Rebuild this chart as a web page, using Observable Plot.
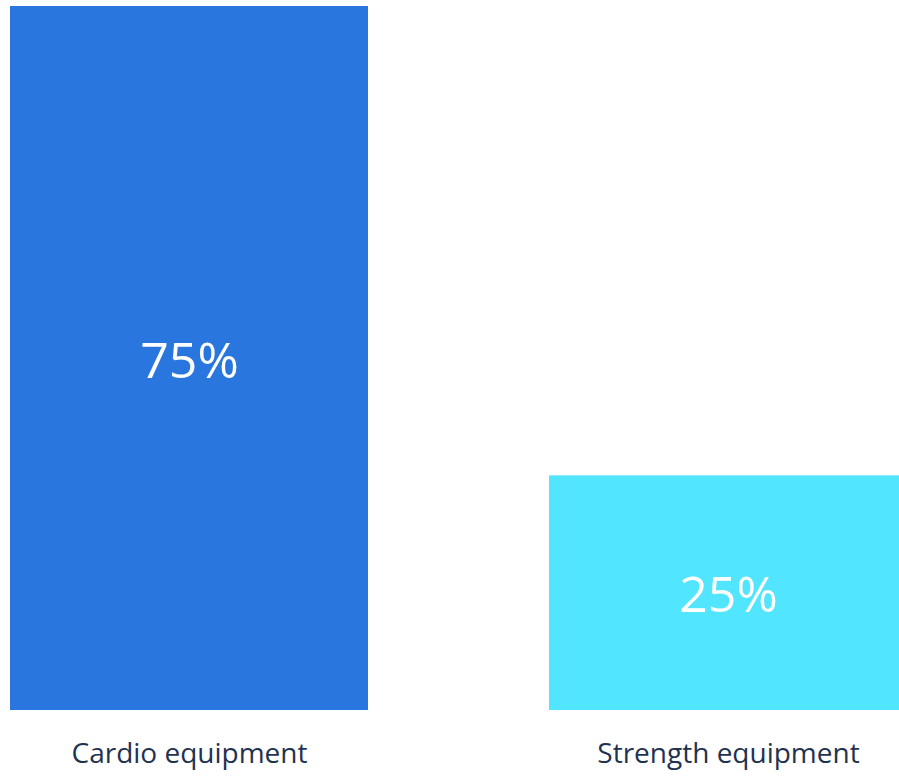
<!DOCTYPE html>
<html>
<head>
<meta charset="utf-8">
<script src="https://cdn.jsdelivr.net/npm/d3@7"></script>
<script src="https://cdn.jsdelivr.net/npm/@observablehq/plot@0.6"></script>
<style>
  html, body { margin: 0; padding: 0; background: #fff; overflow: hidden; }
  #chart svg { display: block; }
</style>
</head>
<body>
<div id="chart"></div>
<script>
const categories = ["Cardio equipment", "Strength equipment"];
const values = [75, 25];
const valueLabels = ["75%", "25%"];
const colors = ["#2976DE", "#52E5FF"];

const data = categories.map((c, i) => ({category: c, value: values[i], label: valueLabels[i], color: colors[i]}));

const chart = Plot.plot({
  width: 899,
  height: 776,
  marginTop: 0,
  marginBottom: 66,
  marginLeft: 0,
  marginRight: 0,
  style: {fontFamily: "'Open Sans', sans-serif", background: "#fff", overflow: "visible"},
  x: {domain: categories, range: [9, 907], paddingInner: 0.336, paddingOuter: 0},
  y: {domain: [0, 75], range: [710, 6], axis: null},
  marks: [
    Plot.barY(data, {x: "category", y: "value", fill: "color"}),
    Plot.text(data, {x: "category", y: d => d.value / 2, text: "label", fill: "#fff", fontSize: 50, dy: 3}),
    Plot.axisX({tickSize: 0, tickPadding: 33, label: null, fontSize: 28, color: "#1F3350"})
  ]
});
document.getElementById("chart").append(chart);
</script>
</body>
</html>
